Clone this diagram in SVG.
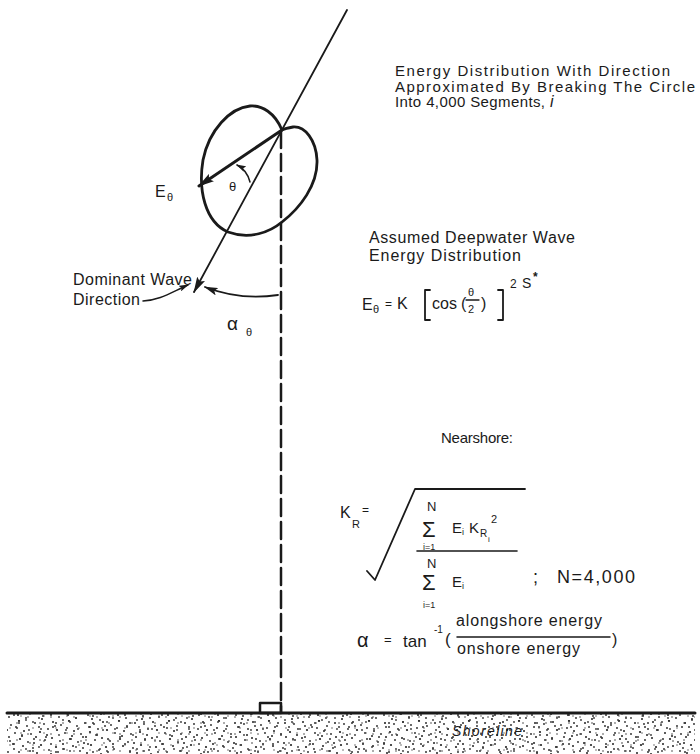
<svg xmlns="http://www.w3.org/2000/svg" width="700" height="754" viewBox="0 0 700 754">
<style>
text{font-family:"Liberation Sans",Arial,sans-serif;fill:#1a1a1a}
.t{font-size:16px}
.s{font-size:11px}
.ln{fill:none;stroke:#1a1a1a;stroke-linecap:round;stroke-linejoin:round}
</style>
<defs>
<marker id="ah" viewBox="0 0 14 8" refX="13" refY="4" markerWidth="14" markerHeight="8" markerUnits="userSpaceOnUse" orient="auto">
<path d="M0,0 L14,4 L0,8 L3,4 Z" fill="#1a1a1a"/>
</marker>
<marker id="ahb" viewBox="0 0 16 9" refX="15" refY="4.5" markerWidth="16" markerHeight="9" markerUnits="userSpaceOnUse" orient="auto">
<path d="M0,0 L16,4.5 L0,9 L3,4.5 Z" fill="#1a1a1a"/>
</marker>
<marker id="ahs" viewBox="0 0 10 6" refX="9" refY="3" markerWidth="10" markerHeight="6" markerUnits="userSpaceOnUse" orient="auto">
<path d="M0,0 L10,3 L0,6 L2,3 Z" fill="#1a1a1a"/>
</marker>
<pattern id="st1" width="50" height="40" patternUnits="userSpaceOnUse">
<g fill="#222">
<circle cx="3" cy="2" r="1"/><circle cx="11" cy="5" r="0.9"/><circle cx="19" cy="1" r="1.1"/><circle cx="27" cy="6" r="0.9"/><circle cx="35" cy="3" r="1"/><circle cx="44" cy="4" r="0.9"/><circle cx="7" cy="10" r="1.1"/><circle cx="15" cy="13" r="0.9"/><circle cx="24" cy="11" r="1"/><circle cx="31" cy="14" r="0.9"/><circle cx="40" cy="12" r="1.1"/><circle cx="48" cy="9" r="0.9"/><circle cx="2" cy="18" r="1"/><circle cx="10" cy="21" r="0.9"/><circle cx="20" cy="19" r="1.1"/><circle cx="28" cy="22" r="0.9"/><circle cx="36" cy="17" r="1"/><circle cx="45" cy="20" r="0.9"/><circle cx="6" cy="27" r="1.1"/><circle cx="14" cy="29" r="0.9"/><circle cx="23" cy="26" r="1"/><circle cx="33" cy="28" r="0.9"/><circle cx="41" cy="25" r="1.1"/><circle cx="49" cy="30" r="0.9"/><circle cx="1" cy="34" r="1"/><circle cx="9" cy="37" r="0.9"/><circle cx="18" cy="35" r="1.1"/><circle cx="26" cy="38" r="0.9"/><circle cx="37" cy="33" r="1"/><circle cx="43" cy="36" r="0.9"/><circle cx="5" cy="6" r="0.9"/><circle cx="22" cy="16" r="1"/><circle cx="39" cy="7" r="0.9"/><circle cx="13" cy="24" r="1"/><circle cx="30" cy="31" r="0.9"/><circle cx="47" cy="15" r="1"/><circle cx="17" cy="8" r="0.9"/><circle cx="34" cy="23" r="1"/><circle cx="8" cy="32" r="0.9"/><circle cx="42" cy="39" r="1"/>
</g>
</pattern>
<pattern id="st2" width="37" height="29" patternUnits="userSpaceOnUse">
<g fill="#333">
<circle cx="4" cy="4" r="0.9"/><circle cx="16" cy="2" r="1"/><circle cx="29" cy="5" r="0.9"/><circle cx="9" cy="12" r="1"/><circle cx="22" cy="10" r="0.9"/><circle cx="34" cy="14" r="1"/><circle cx="2" cy="22" r="0.9"/><circle cx="14" cy="19" r="1"/><circle cx="26" cy="24" r="0.9"/><circle cx="33" cy="26" r="0.9"/><circle cx="19" cy="27" r="1"/><circle cx="7" cy="16" r="0.8"/><circle cx="30" cy="18" r="0.8"/>
</g>
</pattern>
<pattern id="st3" width="23" height="17" patternUnits="userSpaceOnUse">
<g fill="#444">
<circle cx="5" cy="3" r="0.8"/><circle cx="17" cy="9" r="0.8"/><circle cx="10" cy="14" r="0.7"/><circle cx="21" cy="2" r="0.7"/>
</g>
</pattern>
</defs>
<rect width="700" height="754" fill="#fff"/>

<g id="shore">
<rect x="7" y="714" width="688" height="40" fill="url(#st1)"/>
<rect x="7" y="714" width="688" height="40" fill="url(#st2)"/>
<rect x="7" y="714" width="688" height="40" fill="url(#st3)"/>
<line class="ln" x1="7" y1="713" x2="695" y2="713" stroke-width="3"/>
<rect x="260" y="703" width="21" height="10" class="ln" stroke-width="2.5"/>
<text x="452" y="736" font-size="14" font-style="italic" textLength="70">Shoreline</text>
</g>

<g id="energy-lobe">
<path class="ln" stroke-width="2.8" d="M282,130 C275,113 262,105 250,106 C230,108 209,130 203,160 C198,190 205,222 228,232 C250,240 270,232 282,222 C300,208 318,185 317,160 C316,140 305,126 293,127 C287,128 284,129 282,130 Z"/>
</g>

<g id="connectors">
<line class="ln" x1="347" y1="10" x2="194" y2="292" stroke-width="1.8" marker-end="url(#ahb)"/>
<line class="ln" x1="281" y1="131" x2="281" y2="712" stroke-width="2.5" stroke-dasharray="17 6" stroke-linecap="butt"/>
<line class="ln" x1="282" y1="130" x2="199" y2="186" stroke-width="3" marker-end="url(#ahb)"/>
<path class="ln" stroke-width="1.5" d="M250,182 Q247,170 237,165" marker-end="url(#ahs)"/>
<path class="ln" stroke-width="1.5" d="M143,301 C160,300 170,293 188,285" marker-end="url(#ahs)"/>
<path class="ln" stroke-width="1.8" d="M278,295 C252,299 228,296 205,287" marker-end="url(#ah)"/>
</g>

<g id="label-e-theta">
<text x="155" y="197" font-size="16">E</text><text x="167" y="201" class="s">θ</text>
</g>
<g id="label-theta"><text x="229" y="191" font-size="13">θ</text></g>
<g id="label-dominant">
<text x="73" y="285" class="t" textLength="119">Dominant Wave</text>
<text x="73" y="305" class="t" textLength="67">Direction</text>
</g>
<g id="label-alpha">
<text x="227" y="330" font-size="19">α</text><text x="246" y="336" class="s">θ</text>
</g>

<g id="note-segments">
<text x="395" y="76" font-size="15" textLength="275">Energy Distribution With Direction</text>
<text x="395" y="91.5" font-size="15" textLength="300">Approximated By Breaking The Circle</text>
<text x="395" y="107" font-size="15" textLength="150">Into 4,000 Segments,</text>
<text x="550" y="107" font-size="16" font-style="italic" font-family="Liberation Serif,serif">i</text>
</g>

<g id="note-deepwater">
<text x="369" y="243" class="t" textLength="206">Assumed Deepwater Wave</text>
<text x="369" y="261" class="t" textLength="152">Energy Distribution</text>
</g>

<g id="formula-e-theta">
<text x="362" y="310" class="t">E</text><text x="373" y="313" class="s">θ</text>
<text x="385" y="308" font-size="12">=</text>
<text x="397" y="309" class="t">K</text>
<path class="ln" stroke-width="1.8" d="M430,290 L425,290 L425,320 L430,320"/>
<text x="432" y="309" class="t">cos</text>
<text x="461" y="309" class="t">(</text>
<text x="468" y="296" class="s">θ</text>
<line class="ln" x1="466" y1="300" x2="479" y2="300" stroke-width="1.3"/>
<text x="468" y="313" class="s">2</text>
<text x="481" y="309" class="t">)</text>
<path class="ln" stroke-width="1.8" d="M498,290 L503,290 L503,320 L498,320"/>
<text x="510" y="288" font-size="12">2</text>
<text x="522" y="288" font-size="14">S</text>
<text x="533" y="281" font-size="12" font-weight="bold">*</text>
</g>

<g id="note-nearshore"><text x="441" y="443" font-size="15" textLength="72">Nearshore:</text></g>

<g id="formula-kr">
<text x="340" y="518" class="t">K</text><text x="352" y="528" class="s">R</text>
<text x="362" y="514" font-size="12">=</text>
<path class="ln" stroke-width="1.8" d="M367,571 L375,580 L415,489 L525,489"/>
<text x="427" y="511" font-size="13">N</text>
<text x="422" y="537" font-size="22">Σ</text>
<text x="423" y="550" font-size="9">i=1</text>
<text x="452" y="533" font-size="15">E</text><text x="462" y="535" font-size="9">i</text>
<text x="469" y="533" font-size="15">K</text><text x="480" y="537" font-size="10">R</text><text x="488" y="542" font-size="8">i</text>
<text x="491" y="523" font-size="11">2</text>
<line class="ln" x1="417" y1="551" x2="517" y2="551" stroke-width="1.6"/>
<text x="427" y="568" font-size="13">N</text>
<text x="422" y="590" font-size="22">Σ</text>
<text x="423" y="608" font-size="9">i=1</text>
<text x="452" y="587" font-size="15">E</text><text x="462" y="589" font-size="9">i</text>
<text x="533" y="583" font-size="18">;</text>
<text x="557" y="583" font-size="18" textLength="78">N=4,000</text>
</g>

<g id="formula-alpha">
<text x="357" y="647" font-size="20">α</text>
<text x="384" y="644" font-size="13">=</text>
<text x="403" y="647" font-size="17">tan</text>
<text x="434" y="633" font-size="10">-1</text>
<text x="445" y="645" font-size="17">(</text>
<text x="456" y="626" font-size="16" textLength="146">alongshore energy</text>
<line class="ln" x1="457" y1="637" x2="610" y2="637" stroke-width="1.5"/>
<text x="457" y="654" font-size="16" textLength="123">onshore energy</text>
<text x="612" y="645" class="t">)</text>
</g>
</svg>
